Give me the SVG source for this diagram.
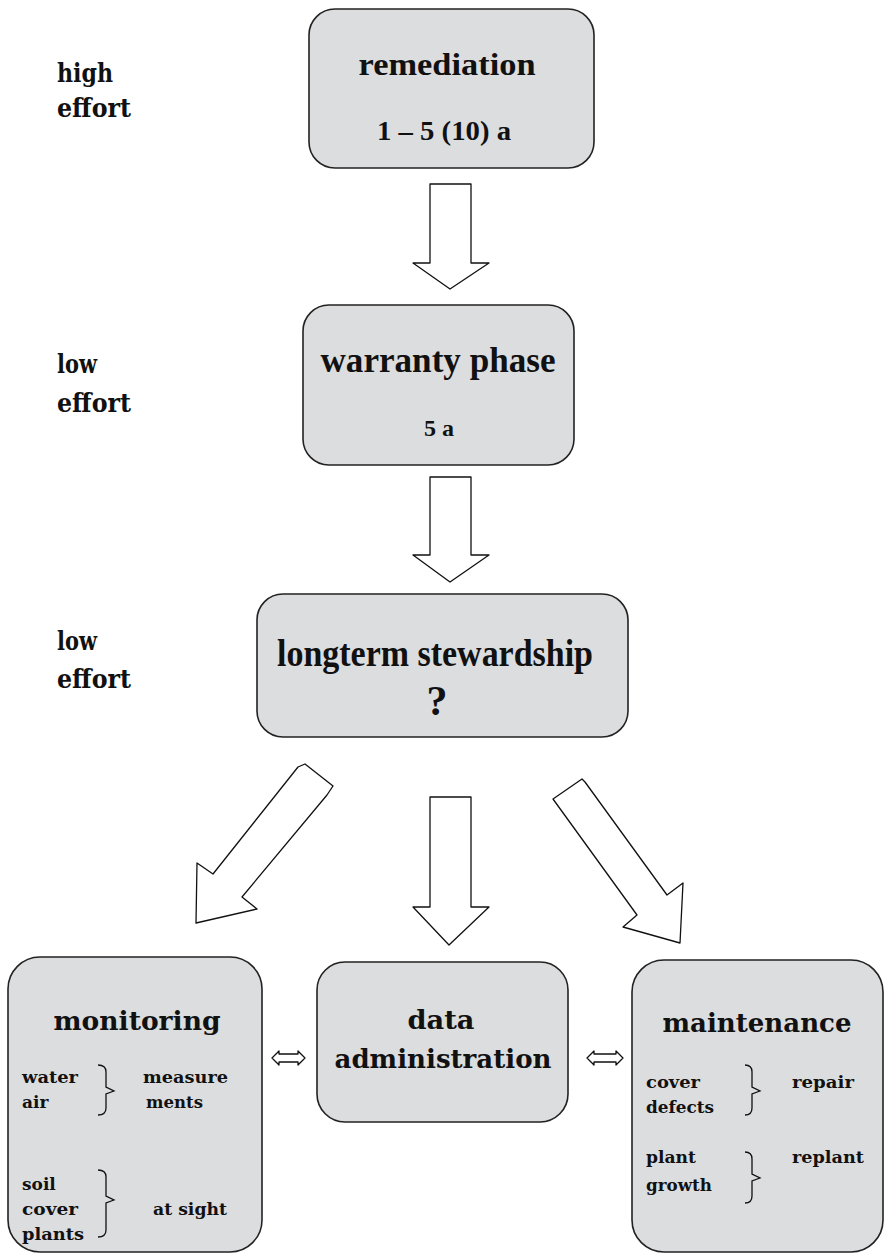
<svg xmlns="http://www.w3.org/2000/svg" width="885" height="1254" viewBox="0 0 885 1254">
<style>
.box{fill:#dcdddf;stroke:#222;stroke-width:1.6}
.arr{fill:#fff;stroke:#111;stroke-width:1.3;stroke-linejoin:round}
.brk{fill:none;stroke:#111;stroke-width:1.3}
.t1{font-family:"Liberation Serif","Times New Roman",serif;font-weight:bold;fill:#111;text-anchor:middle}
.lab{font-family:"DejaVu Serif",serif;font-weight:bold;font-size:26px;fill:#111}
.t2{font-family:"DejaVu Serif",serif;font-weight:bold;font-size:26px;fill:#111;text-anchor:middle}
.t3{font-family:"DejaVu Serif",serif;font-weight:bold;font-size:17px;fill:#111}
</style>
<rect width="885" height="1254" fill="#fff"/>
<g id="labels">
<text class="lab" x="57" y="82" textLength="56" lengthAdjust="spacingAndGlyphs">high</text>
<text class="lab" x="57" y="117" textLength="74" lengthAdjust="spacingAndGlyphs">effort</text>
<text class="lab" x="57" y="373" textLength="40" lengthAdjust="spacingAndGlyphs">low</text>
<text class="lab" x="57" y="412" textLength="74" lengthAdjust="spacingAndGlyphs">effort</text>
<text class="lab" x="57" y="650" textLength="40" lengthAdjust="spacingAndGlyphs">low</text>
<text class="lab" x="57" y="688" textLength="74" lengthAdjust="spacingAndGlyphs">effort</text>
</g>
<g id="remediation">
<rect class="box" x="309" y="9" width="285" height="159" rx="26"/>
<text class="t1" x="447" y="75" font-size="32" textLength="177" lengthAdjust="spacingAndGlyphs">remediation</text>
<text class="t1" x="444" y="140" font-size="27" textLength="134" lengthAdjust="spacingAndGlyphs">1 – 5 (10) a</text>
</g>
<g id="warranty">
<rect class="box" x="303" y="305" width="271" height="160" rx="26"/>
<text class="t1" x="438" y="372" font-size="35" textLength="235" lengthAdjust="spacingAndGlyphs">warranty phase</text>
<text class="t1" x="439" y="436" font-size="24">5 a</text>
</g>
<g id="longterm">
<rect class="box" x="257" y="594" width="371" height="143" rx="26"/>
<text class="t1" x="435" y="666" font-size="37" textLength="316" lengthAdjust="spacingAndGlyphs">longterm stewardship</text>
<text class="t1" x="437" y="715" font-size="42">?</text>
</g>
<g id="monitoring">
<rect class="box" x="8" y="957" width="254" height="295" rx="32"/>
<text class="t2" x="137" y="1030" textLength="167" lengthAdjust="spacingAndGlyphs">monitoring</text>
<text class="t3" x="22" y="1083" textLength="56" lengthAdjust="spacingAndGlyphs">water</text>
<text class="t3" x="22" y="1108">air</text>
<text class="t3" x="143" y="1083" textLength="85" lengthAdjust="spacingAndGlyphs">measure</text>
<text class="t3" x="146" y="1108" textLength="57" lengthAdjust="spacingAndGlyphs">ments</text>
<path class="brk" d="M98,1065 Q106,1065 106,1072 V1087 L114,1091 L106,1094 V1108 Q106,1115 98,1115"/>
<text class="t3" x="22" y="1190">soil</text>
<text class="t3" x="22" y="1215" textLength="56" lengthAdjust="spacingAndGlyphs">cover</text>
<text class="t3" x="22" y="1240" textLength="62" lengthAdjust="spacingAndGlyphs">plants</text>
<text class="t3" x="153" y="1215" textLength="74" lengthAdjust="spacingAndGlyphs">at sight</text>
<path class="brk" d="M98,1170 Q106,1170 106,1177 V1196 L114,1200 L106,1203 V1230 Q106,1237 98,1237"/>
</g>
<g id="data-administration">
<rect class="box" x="317" y="962" width="251" height="160" rx="28"/>
<text class="t2" x="441" y="1029" textLength="67" lengthAdjust="spacingAndGlyphs">data</text>
<text class="t2" x="443" y="1068" textLength="217" lengthAdjust="spacingAndGlyphs">administration</text>
</g>
<g id="maintenance">
<rect class="box" x="632" y="960" width="251" height="292" rx="32"/>
<text class="t2" x="757" y="1032" textLength="189" lengthAdjust="spacingAndGlyphs">maintenance</text>
<text class="t3" x="646" y="1088" textLength="54" lengthAdjust="spacingAndGlyphs">cover</text>
<text class="t3" x="646" y="1113" textLength="68" lengthAdjust="spacingAndGlyphs">defects</text>
<text class="t3" x="792" y="1088" textLength="62" lengthAdjust="spacingAndGlyphs">repair</text>
<path class="brk" d="M745,1065 Q752,1065 752,1072 V1087 L760,1091 L752,1094 V1108 Q752,1115 745,1115"/>
<text class="t3" x="646" y="1163" textLength="50" lengthAdjust="spacingAndGlyphs">plant</text>
<text class="t3" x="646" y="1191" textLength="66" lengthAdjust="spacingAndGlyphs">growth</text>
<text class="t3" x="792" y="1163" textLength="72" lengthAdjust="spacingAndGlyphs">replant</text>
<path class="brk" d="M745,1152 Q752,1152 752,1159 V1174 L760,1178 L752,1181 V1196 Q752,1203 745,1203"/>
</g>
<g id="connectors">
<polygon class="arr" points="430,184 471,184 471,263 489,263 450,289 413,263 430,263"/>
<polygon class="arr" points="430,477 471,477 471,555 489,555 450,582 413,555 430,555"/>
<polygon class="arr" points="430,797 471,797 471,907 489,907 449,945 413,907 430,907"/>
<polygon class="arr" points="298,767 305,764 333,786 327,795 242,897 257,909 196,923 197,863 213,874"/>
<polygon class="arr" points="553,799 582,779 585,782 667,895 683,883 680,943 623,927 637,915"/>
<path class="arr" d="M272,1058 L279,1051 V1054 H298 V1051 L305,1058 L298,1065 V1062 H279 V1065 Z"/>
<path class="arr" d="M587,1058 L594,1051 V1054 H616 V1051 L623,1058 L616,1065 V1062 H594 V1065 Z"/>
</g>
</svg>
